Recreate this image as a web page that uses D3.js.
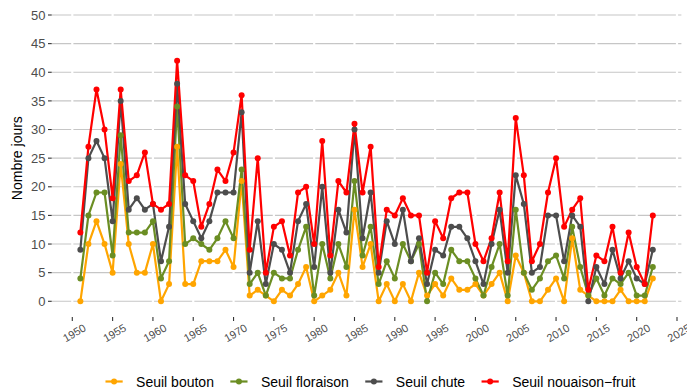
<!DOCTYPE html>
<html>
<head>
<meta charset="utf-8">
<script src="https://cdn.jsdelivr.net/npm/d3@7"></script>
<style>
  html, body { margin: 0; padding: 0; background: #fff; }
  svg { display: block; font-family: "Liberation Sans", Arial, sans-serif; }
</style>
</head>
<body>
<svg id="chart" width="687" height="390"></svg>
<script>
// Years of observation
const years = d3.range(1951, 2023);

// Number of days above each threshold, one value per year (1951-2022)
const seuilBouton = [
  0, 10, 14, 10, 5, 24, 10, 5, 5, 10,
  0, 3, 27, 3, 3, 7, 7, 7, 9, 6,
  21, 1, 2, 1, 0, 2, 1, 3, 6, 0,
  1, 2, 5, 1, 16, 6, 10, 0, 3, 0,
  3, 0, 5, 1, 3, 1, 4, 2, 2, 3,
  1, 3, 5, 0, 8, 5, 0, 0, 2, 4,
  0, 11, 2, 1, 0, 0, 0, 2, 0, 0,
  0, 4
];
const seuilFloraison = [
  4, 15, 19, 19, 8, 29, 12, 12, 12, 14,
  4, 7, 34, 10, 11, 10, 9, 11, 14, 11,
  23, 3, 5, 1, 5, 4, 4, 9, 13, 1,
  10, 4, 10, 6, 21, 8, 13, 3, 7, 4,
  10, 7, 10, 0, 5, 3, 9, 7, 7, 4,
  1, 6, 10, 1, 16, 5, 2, 4, 7, 8,
  4, 13, 6, 1, 4, 1, 4, 3, 5, 1,
  1, 6
];
const seuilChute = [
  9, 25, 28, 25, 14, 35, 16, 18, 16, 17,
  7, 13, 38, 17, 14, 11, 14, 19, 19, 19,
  33, 5, 14, 3, 10, 9, 5, 14, 17, 6,
  20, 5, 16, 12, 30, 11, 19, 5, 14, 10,
  16, 7, 11, 3, 9, 8, 13, 13, 11, 7,
  3, 10, 16, 5, 22, 17, 5, 6, 15, 15,
  7, 15, 13, 0, 6, 3, 9, 4, 7, 4,
  3, 9
];
const seuilNouaison = [
  12, 27, 37, 30, 18, 37, 21, 22, 26, 17,
  16, 17, 42, 22, 21, 13, 17, 23, 21, 26,
  36, 9, 25, 5, 13, 14, 8, 19, 20, 10,
  28, 8, 21, 19, 31, 19, 27, 6, 16, 15,
  18, 15, 15, 5, 14, 11, 18, 19, 19, 10,
  7, 11, 19, 7, 32, 22, 7, 10, 19, 25,
  13, 16, 18, 2, 8, 7, 13, 5, 12, 6,
  3, 15
];

const seriesNames = ["Seuil bouton", "Seuil floraison", "Seuil chute", "Seuil nouaison\u2212fruit"];
const seriesValues = [seuilBouton, seuilFloraison, seuilChute, seuilNouaison];
const seriesColors = ["#FFA500", "#6B8E23", "#4D4D4D", "#FF0000"];

const xTicks = d3.range(1950, 2026, 5);
const yTicks = d3.range(0, 51, 5);

const svg = d3.select("#chart");

const panel = { left: 51.7, right: 681.4, top: 1, bottom: 317 };
const x = d3.scaleLinear().domain([1950, 2025]).range([72.3, 677]);
const y = d3.scaleLinear().domain([0, 50]).range([301.3, 15]);

// horizontal grid
svg.append("g")
  .selectAll("line")
  .data(yTicks)
  .join("line")
  .attr("x1", panel.left).attr("x2", panel.right)
  .attr("y1", d => y(d)).attr("y2", d => y(d))
  .attr("stroke", "#C6C6C6").attr("stroke-width", 1.1);

// vertical grid (white, over the horizontal lines)
svg.append("g")
  .selectAll("line")
  .data(xTicks)
  .join("line")
  .attr("x1", d => x(d)).attr("x2", d => x(d))
  .attr("y1", panel.top).attr("y2", panel.bottom)
  .attr("stroke", "#FFFFFF").attr("stroke-width", 2.2);

// y axis ticks and labels
const yAxis = svg.append("g");
yAxis.selectAll("line")
  .data(yTicks)
  .join("line")
  .attr("x1", 48).attr("x2", 51.7)
  .attr("y1", d => y(d)).attr("y2", d => y(d))
  .attr("stroke", "#333333").attr("stroke-width", 1.1);
yAxis.selectAll("text")
  .data(yTicks)
  .join("text")
  .attr("x", 45.5)
  .attr("y", d => y(d))
  .attr("dy", "0.36em")
  .attr("text-anchor", "end")
  .attr("font-size", 13)
  .attr("fill", "#4D4D4D")
  .text(d => d);

// x axis ticks and rotated labels
const xAxis = svg.append("g");
xAxis.selectAll("line")
  .data(xTicks)
  .join("line")
  .attr("x1", d => x(d)).attr("x2", d => x(d))
  .attr("y1", 317).attr("y2", 321)
  .attr("stroke", "#333333").attr("stroke-width", 1.1);
xAxis.selectAll("text")
  .data(xTicks)
  .join("text")
  .attr("transform", d => `translate(${x(d) + 2},${333}) rotate(-30)`)
  .attr("text-anchor", "middle")
  .attr("dy", "0.35em")
  .attr("font-size", 11)
  .attr("fill", "#4D4D4D")
  .text(d => d);

// y axis title
svg.append("text")
  .attr("transform", `translate(22,${(y(0) + y(50)) / 2}) rotate(-90)`)
  .attr("text-anchor", "middle")
  .attr("font-size", 14)
  .attr("fill", "#000")
  .text("Nombre jours");

// lines
const line = d3.line()
  .x((d, i) => x(years[i]))
  .y(d => y(d));

svg.append("g")
  .selectAll("path")
  .data(seriesValues)
  .join("path")
  .attr("d", d => line(d))
  .attr("fill", "none")
  .attr("stroke", (d, i) => seriesColors[i])
  .attr("stroke-width", 2.2)
  .attr("stroke-linejoin", "round");

// points
seriesValues.forEach((vals, si) => {
  svg.append("g")
    .selectAll("circle")
    .data(vals)
    .join("circle")
    .attr("cx", (d, i) => x(years[i]))
    .attr("cy", d => y(d))
    .attr("r", 3)
    .attr("fill", seriesColors[si]);
});

// legend
const legend = svg.append("g");
const keyGap = 22, itemGap = 25, keyHalf = 8.6;
let cursor = 0;
const items = seriesNames.map((name, i) => {
  const g = legend.append("g");
  g.append("line")
    .attr("x1", -keyHalf).attr("x2", keyHalf)
    .attr("y1", 0).attr("y2", 0)
    .attr("stroke", seriesColors[i]).attr("stroke-width", 2.2);
  g.append("circle").attr("r", 3).attr("fill", seriesColors[i]);
  const t = g.append("text")
    .attr("x", keyGap)
    .attr("dy", "0.36em")
    .attr("font-size", 14)
    .attr("fill", "#000")
    .text(name);
  const w = t.node().getComputedTextLength();
  g.attr("transform", `translate(${cursor},0)`);
  const item = { g, start: cursor - keyHalf, end: cursor + keyGap + w };
  cursor += keyGap + w + itemGap;
  return item;
});
const lStart = items[0].start, lEnd = items[items.length - 1].end;
const lCenter = 370.5;
legend.attr("transform", `translate(${lCenter - (lStart + lEnd) / 2},381.5)`);
</script>
</body>
</html>
